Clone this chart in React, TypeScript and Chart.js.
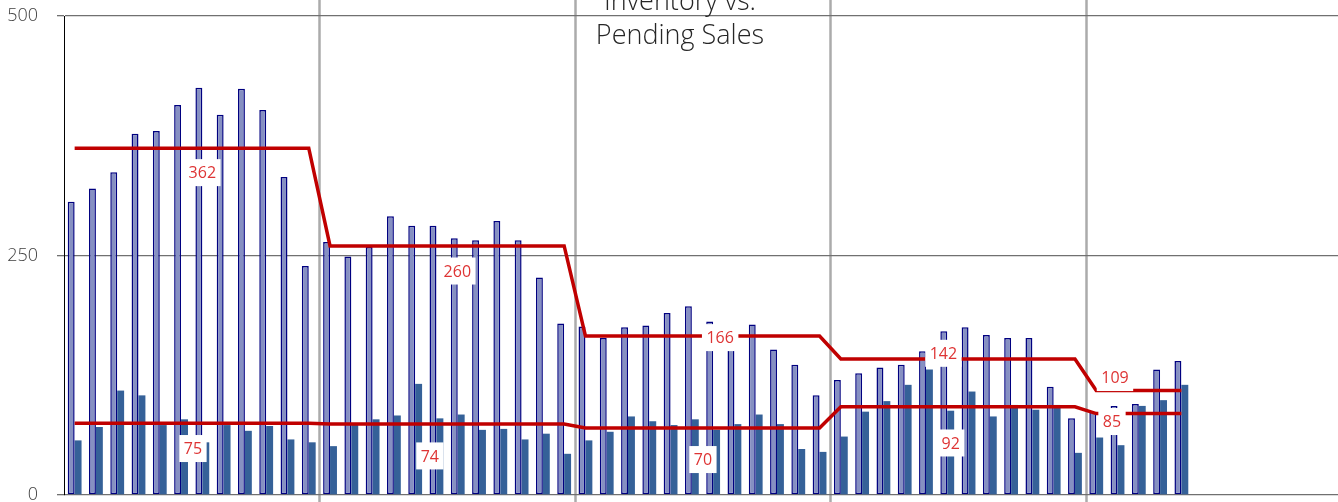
import React, { useEffect, useRef } from "react";
import { Chart, registerables } from "chart.js";

Chart.register(...registerables);

const MONTHS = ["Jan", "Feb", "Mar", "Apr", "May", "Jun", "Jul", "Aug", "Sep", "Oct", "Nov", "Dec"];
const YEARS = ["Y1", "Y2", "Y3", "Y4", "Y5"];
const LABELS = YEARS.flatMap((y) => MONTHS.map((m) => `${m} ${y}`));

const INVENTORY = [
  306, 320, 337, 377, 380, 407, 425, 397, 424, 402, 332, 239,
  264, 249, 259, 291, 281, 281, 268, 266, 286, 266, 227, 179,
  176, 164, 175, 177, 190, 197, 181, 163, 178, 152, 136, 104,
  120, 127, 133, 136, 150, 171, 175, 167, 164, 164, 113, 80,
  87, 93, 95, 131, 140,
];

const PENDING = [
  57, 71, 109, 104, 73, 79, 55, 73, 67, 72, 58, 55,
  51, 75, 79, 83, 116, 80, 84, 68, 69, 58, 64, 43,
  57, 66, 82, 77, 73, 79, 68, 74, 84, 74, 48, 45,
  61, 87, 98, 115, 131, 88, 108, 82, 94, 89, 94, 44,
  60, 52, 93, 99, 115,
];

const INVENTORY_AVG = [
  362, 362, 362, 362, 362, 362, 362, 362, 362, 362, 362, 362,
  260, 260, 260, 260, 260, 260, 260, 260, 260, 260, 260, 260,
  166, 166, 166, 166, 166, 166, 166, 166, 166, 166, 166, 166,
  142, 142, 142, 142, 142, 142, 142, 142, 142, 142, 142, 142,
  109, 109, 109, 109, 109,
];

const PENDING_AVG = [
  75, 75, 75, 75, 75, 75, 75, 75, 75, 75, 75, 75,
  74, 74, 74, 74, 74, 74, 74, 74, 74, 74, 74, 74,
  70, 70, 70, 70, 70, 70, 70, 70, 70, 70, 70, 70,
  92, 92, 92, 92, 92, 92, 92, 92, 92, 92, 92, 92,
  85, 85, 85, 85, 85,
];

const Y_TICKS = [0, 250, 500];
const AVG_LABELS = ["362", "75", "260", "74", "166", "70", "142", "92", "109", "85"];
const TITLE_LINES = ["Inventory vs.", "Pending Sales"];

// label anchor positions (category index, value) for the average labels
const LABEL_ANCHORS = [
  { i: 6.0, v: 336.5 },
  { i: 5.56, v: 48.5 },
  { i: 17.98, v: 233.8 },
  { i: 16.69, v: 40.8 },
  { i: 30.33, v: 164.3 },
  { i: 29.52, v: 37 },
  { i: 40.82, v: 147.9 },
  { i: 41.16, v: 54.3 },
  { i: 48.88, v: 122.6 },
  { i: 48.74, v: 76.7 },
];

const FONT = "'Open Sans'";

const overlayPlugin = {
  id: "overlay",
  beforeDraw(chart: any) {
    const { ctx } = chart;
    const x = chart.scales.x;
    ctx.save();
    ctx.strokeStyle = "#ababab";
    ctx.lineWidth = 2.5;
    for (let b = 12; b < LABELS.length; b += 12) {
      const px = Math.round(x.getPixelForValue(b - 0.5)) + 0.5;
      ctx.beginPath();
      ctx.moveTo(px, 0);
      ctx.lineTo(px, chart.height);
      ctx.stroke();
    }
    ctx.restore();
  },
  afterDraw(chart: any) {
    const { ctx } = chart;
    const x = chart.scales.x;
    const y = chart.scales.y;
    ctx.save();
    const fs = 16;
    ctx.font = `400 ${fs}px ${FONT}`;
    ctx.textAlign = "center";
    ctx.textBaseline = "alphabetic";
    LABEL_ANCHORS.forEach((a, k) => {
      const t = AVG_LABELS[k];
      const cx = x.getPixelForValue(a.i);
      const cy = y.getPixelForValue(a.v);
      const w = ctx.measureText(t).width + 9;
      const h = 27;
      ctx.fillStyle = "#ffffff";
      ctx.fillRect(cx - w / 2, cy - h / 2, w, h);
      ctx.fillStyle = "#de3434";
      ctx.fillText(t, cx, cy + fs * 0.36);
    });
    ctx.font = `300 27px ${FONT}`;
    ctx.fillStyle = "#262626";
    ctx.fillText(TITLE_LINES[0], 680, 10);
    ctx.fillText(TITLE_LINES[1], 680, 44);
    ctx.restore();
  },
};

export default function App() {
  const ref = useRef<HTMLCanvasElement | null>(null);

  useEffect(() => {
    if (!ref.current) return;
    const chart = new Chart(ref.current, {
      type: "bar",
      data: {
        labels: LABELS,
        datasets: [
          {
            type: "line",
            label: "Inventory average",
            data: INVENTORY_AVG,
            borderColor: "#c00000",
            borderWidth: 3.5,
            pointRadius: 0,
            tension: 0,
            order: 0,
          } as any,
          {
            type: "line",
            label: "Pending average",
            data: PENDING_AVG,
            borderColor: "#c00000",
            borderWidth: 3.5,
            pointRadius: 0,
            tension: 0,
            order: 0,
          } as any,
          {
            type: "bar",
            label: "Inventory",
            data: INVENTORY,
            backgroundColor: "#8690c2",
            borderColor: "#000080",
            borderWidth: 1.5,
            borderSkipped: false,
            order: 1,
          } as any,
          {
            type: "bar",
            label: "Pending Sales",
            data: PENDING,
            backgroundColor: "#356198",
            borderWidth: 0,
            order: 1,
          } as any,
        ],
      },
      options: {
        responsive: false,
        animation: false,
        layout: { padding: { top: 16, bottom: 25, left: 0, right: 0 } },
        plugins: {
          legend: { display: false },
          tooltip: { enabled: false },
          title: { display: false },
        },
        datasets: {
          bar: { categoryPercentage: 0.65, barPercentage: 1 },
        },
        scales: {
          x: {
            display: false,
            offset: true,
          },
          y: {
            min: 0,
            max: 500,
            afterFit: (s: any) => {
              s.width = 64;
              s.paddingTop = 0;
              s.paddingBottom = 0;
            },
            afterBuildTicks: (s: any) => {
              s.ticks = Y_TICKS.map((v) => ({ value: v }));
            },
            ticks: {
              color: "#404040",
              font: { family: "'Open Sans'", size: 18, weight: "300" },
              padding: 19,
            },
            grid: {
              color: "#707070",
              lineWidth: 1.3,
              tickLength: 7,
              drawTicks: true,
            },
            border: { display: true, color: "#000000", width: 1 },
          },
        },
      },
      plugins: [overlayPlugin],
    });
    return () => chart.destroy();
  }, []);

  return (
    <div
      style={{
        position: "fixed",
        left: 0,
        top: 0,
        width: 1338,
        height: 502,
        overflow: "hidden",
        background: "#ffffff",
      }}
    >
      <canvas ref={ref} width={1341} height={520} style={{ display: "block" }} />
    </div>
  );
}
